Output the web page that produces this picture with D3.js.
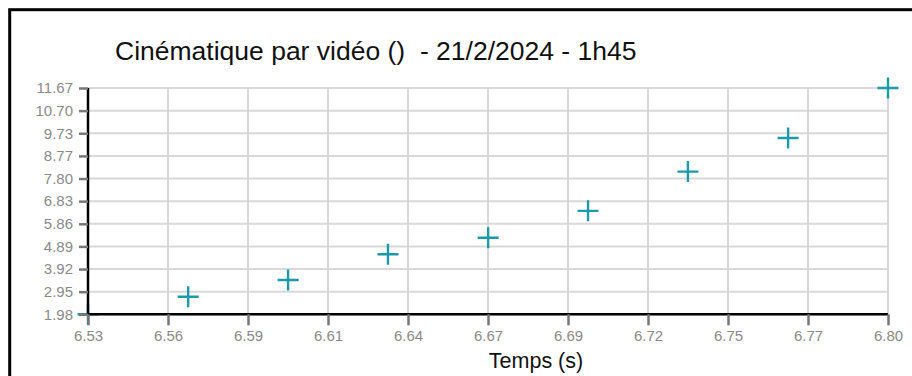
<!DOCTYPE html>
<html>
<head>
<meta charset="utf-8">
<script src="https://cdn.jsdelivr.net/npm/d3@7"></script>
<style>
  body { margin: 0; background: #fff; overflow: hidden; }
  svg { display: block; font-family: "Liberation Sans", Arial, sans-serif; }
</style>
</head>
<body>
<svg id="chart" width="912" height="376"></svg>
<script>
// data (video at 30 fps)
var times = [6.5333, 6.5667, 6.6, 6.6333, 6.6667, 6.7, 6.7333, 6.7667, 6.8];
var values = [1.98, 2.73, 3.45, 4.55, 5.26, 6.41, 8.09, 9.53, 11.67];
var xTickLabels = ["6.53", "6.56", "6.59", "6.61", "6.64", "6.67", "6.69", "6.72", "6.75", "6.77", "6.80"];
var yTickLabels = ["1.98", "2.95", "3.92", "4.89", "5.86", "6.83", "7.80", "8.77", "9.73", "10.70", "11.67"];
var title = "Cinématique par vidéo ()  - 21/2/2024 - 1h45";
var xLabel = "Temps (s)";

var margin = {top: 88, left: 88},
    width = 800,
    height = 226.3;

var svg = d3.select("#chart");

// outer frame
svg.append("rect")
  .attr("x", 9.7).attr("y", 9.7)
  .attr("width", 1000).attr("height", 500)
  .attr("fill", "none")
  .attr("stroke", "#000")
  .attr("stroke-width", 3);

var g = svg.append("g")
  .attr("transform", "translate(" + margin.left + "," + margin.top + ")");

var xMin = times[0], xMax = times[times.length - 1];
var yMin = values[0], yMax = values[values.length - 1];

var x = d3.scaleLinear().domain([xMin, xMax]).range([0, width]);
var y = d3.scaleLinear().domain([yMin, yMax]).range([height, 0]);

var xTicks = xTickLabels.map(function(d, i) { return xMin + (xMax - xMin) * i / (xTickLabels.length - 1); });
var yTicks = yTickLabels.map(function(d, i) { return yMin + (yMax - yMin) * i / (yTickLabels.length - 1); });

// grid
g.append("g").selectAll("line")
  .data(yTicks)
  .enter().append("line")
  .attr("x1", 0).attr("x2", width)
  .attr("y1", function(d) { return y(d); })
  .attr("y2", function(d) { return y(d); })
  .attr("stroke", "#d8d8d8")
  .attr("stroke-width", 2);

g.append("g").selectAll("line")
  .data(xTicks)
  .enter().append("line")
  .attr("y1", 0).attr("y2", height)
  .attr("x1", function(d) { return x(d); })
  .attr("x2", function(d) { return x(d); })
  .attr("stroke", "#d8d8d8")
  .attr("stroke-width", 2);

// points
g.append("g").selectAll("path")
  .data(times)
  .enter().append("path")
  .attr("transform", function(d, i) { return "translate(" + x(d) + "," + y(values[i]) + ")"; })
  .attr("d", "M-10.5,0H10.5M0,-10.5V10.5")
  .attr("stroke", "#1a9aaa")
  .attr("stroke-width", 2.4)
  .attr("fill", "none");

// axes
var xAxis = g.append("g")
  .attr("transform", "translate(0," + height + ")")
  .call(d3.axisBottom(x)
    .tickValues(xTicks)
    .tickSize(11)
    .tickPadding(5)
    .tickFormat(function(d, i) { return xTickLabels[i]; }));

var yAxis = g.append("g")
  .call(d3.axisLeft(y)
    .tickValues(yTicks)
    .tickSize(9)
    .tickPadding(6)
    .tickFormat(function(d, i) { return yTickLabels[i]; }));

[xAxis, yAxis].forEach(function(a) {
  a.attr("font-size", 15).attr("font-family", "'Liberation Sans', Arial, sans-serif");
  a.select(".domain").attr("stroke", "#000").attr("stroke-width", 2.5);
  a.selectAll(".tick line").attr("stroke", "#777").attr("stroke-width", 2.5);
  a.selectAll(".tick text").attr("fill", "#8a8a8a");
});
xAxis.select(".domain").attr("d", "M0,0H" + width);
yAxis.select(".domain").attr("d", "M0," + height + "V0");

// title
svg.append("text")
  .attr("x", 115)
  .attr("y", 60)
  .style("font-size", "26.5px")
  .style("white-space", "pre")
  .attr("fill", "#111")
  .text(title);

// x label
svg.append("text")
  .attr("x", 536)
  .attr("y", 368)
  .attr("text-anchor", "middle")
  .style("font-size", "21.5px")
  .attr("fill", "#111")
  .text(xLabel);
</script>
</body>
</html>
